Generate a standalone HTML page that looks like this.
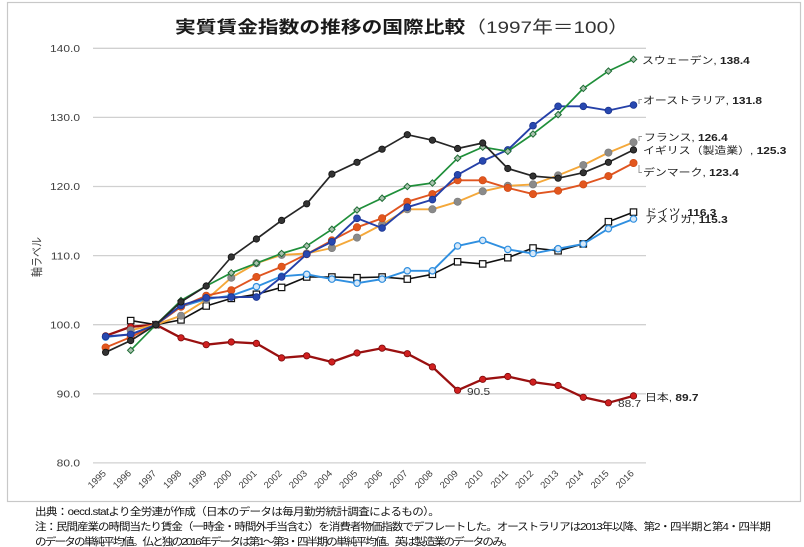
<!DOCTYPE html>
<html>
<head>
<meta charset="utf-8">
<style>
  html,body{margin:0;padding:0;background:#fff;}
  svg{display:block;}
  text{font-family:"Liberation Sans","Noto Sans CJK JP",sans-serif;}
</style>
</head>
<body>
<svg width="804" height="547" viewBox="0 0 804 547" xmlns="http://www.w3.org/2000/svg">
<defs>
  <marker id="mUK" markerUnits="userSpaceOnUse" markerWidth="8" markerHeight="8" refX="4" refY="4" overflow="visible"><circle cx="4" cy="4" r="3.2" fill="#333" stroke="#111" stroke-width="0.8"/></marker>
  <marker id="mSE" markerUnits="userSpaceOnUse" markerWidth="8" markerHeight="8" refX="4" refY="4" overflow="visible"><path d="M4 0.8 L7.2 4 L4 7.2 L0.8 4 Z" fill="#a9c2ae" stroke="#1e6b34" stroke-width="1"/></marker>
  <marker id="mAU" markerUnits="userSpaceOnUse" markerWidth="8" markerHeight="8" refX="4" refY="4" overflow="visible"><circle cx="4" cy="4" r="3.4" fill="#2848b0" stroke="#1c3590" stroke-width="0.8"/></marker>
  <marker id="mFR" markerUnits="userSpaceOnUse" markerWidth="8" markerHeight="8" refX="4" refY="4" overflow="visible"><circle cx="4" cy="4" r="3.7" fill="#8a8a8a" stroke="#777" stroke-width="0.6"/></marker>
  <marker id="mDK" markerUnits="userSpaceOnUse" markerWidth="8" markerHeight="8" refX="4" refY="4" overflow="visible"><circle cx="4" cy="4" r="3.7" fill="#e2561e" stroke="#c94510" stroke-width="0.6"/></marker>
  <marker id="mDE" markerUnits="userSpaceOnUse" markerWidth="8" markerHeight="8" refX="4" refY="4" overflow="visible"><rect x="0.8" y="0.8" width="6.4" height="6.4" fill="#fff" stroke="#111" stroke-width="1.2"/></marker>
  <marker id="mUS" markerUnits="userSpaceOnUse" markerWidth="8" markerHeight="8" refX="4" refY="4" overflow="visible"><circle cx="4" cy="4" r="3.2" fill="#d6e8f8" stroke="#2f8fe0" stroke-width="1.2"/></marker>
  <marker id="mJP" markerUnits="userSpaceOnUse" markerWidth="8" markerHeight="8" refX="4" refY="4" overflow="visible"><circle cx="4" cy="4" r="3.2" fill="#d02020" stroke="#7a0a0a" stroke-width="0.8"/></marker>
</defs>

<rect x="0" y="0" width="804" height="547" fill="#fff"/>
<!-- chart border -->
<rect x="7.5" y="2.5" width="793" height="499" fill="none" stroke="#c8c8c8" stroke-width="1.2"/>

<!-- title -->
<text transform="translate(175,33) scale(1.22,1)" font-size="17" fill="#1a1a1a" font-weight="bold">実質賃金指数の推移の国際比較<tspan font-weight="normal" fill="#333">（1997年＝100）</tspan></text>

<!-- gridlines -->
<g stroke="#d0d0d0" stroke-width="1.3">
  <line x1="93" y1="48.3" x2="646" y2="48.3"/>
  <line x1="93" y1="117.4" x2="646" y2="117.4"/>
  <line x1="93" y1="186.5" x2="646" y2="186.5"/>
  <line x1="93" y1="255.6" x2="646" y2="255.6"/>
  <line x1="93" y1="324.7" x2="646" y2="324.7"/>
  <line x1="93" y1="393.8" x2="646" y2="393.8"/>
  <line x1="93" y1="462.9" x2="646" y2="462.9"/>
</g>

<!-- y tick labels -->
<g font-size="10" fill="#404040" text-anchor="end">
  <text transform="translate(80,52) scale(1.2,1)">140.0</text>
  <text transform="translate(80,121.1) scale(1.2,1)">130.0</text>
  <text transform="translate(80,190.2) scale(1.2,1)">120.0</text>
  <text transform="translate(80,259.3) scale(1.2,1)">110.0</text>
  <text transform="translate(80,328.4) scale(1.2,1)">100.0</text>
  <text transform="translate(80,397.5) scale(1.2,1)">90.0</text>
  <text transform="translate(80,466.6) scale(1.2,1)">80.0</text>
</g>

<!-- axis title -->
<text transform="translate(41,257) scale(1.2,1) rotate(-90)" font-size="10" fill="#404040" text-anchor="middle">軸ラベル</text>

<!-- x tick labels -->
<g font-size="9.5" fill="#404040" text-anchor="end">
  <text transform="translate(106.6,474) rotate(-45)">1995</text>
  <text transform="translate(131.7,474) rotate(-45)">1996</text>
  <text transform="translate(156.9,474) rotate(-45)">1997</text>
  <text transform="translate(182,474) rotate(-45)">1998</text>
  <text transform="translate(207.2,474) rotate(-45)">1999</text>
  <text transform="translate(232.3,474) rotate(-45)">2000</text>
  <text transform="translate(257.4,474) rotate(-45)">2001</text>
  <text transform="translate(282.6,474) rotate(-45)">2002</text>
  <text transform="translate(307.7,474) rotate(-45)">2003</text>
  <text transform="translate(332.9,474) rotate(-45)">2004</text>
  <text transform="translate(358,474) rotate(-45)">2005</text>
  <text transform="translate(383.1,474) rotate(-45)">2006</text>
  <text transform="translate(408.3,474) rotate(-45)">2007</text>
  <text transform="translate(433.4,474) rotate(-45)">2008</text>
  <text transform="translate(458.6,474) rotate(-45)">2009</text>
  <text transform="translate(483.7,474) rotate(-45)">2010</text>
  <text transform="translate(508.8,474) rotate(-45)">2011</text>
  <text transform="translate(534,474) rotate(-45)">2012</text>
  <text transform="translate(559.1,474) rotate(-45)">2013</text>
  <text transform="translate(584.3,474) rotate(-45)">2014</text>
  <text transform="translate(609.4,474) rotate(-45)">2015</text>
  <text transform="translate(634.5,474) rotate(-45)">2016</text>
</g>

<!-- series -->
<g fill="none" stroke-linejoin="round">
  <polyline stroke="#111" stroke-width="1.6" marker-start="url(#mDE)" marker-mid="url(#mDE)" marker-end="url(#mDE)"
    points="130.7,320.6 155.9,324.7 181,319.9 206.2,306 231.3,298.4 256.4,294.3 281.6,287.4 306.7,277 331.9,277 357,277.7 382.1,277 407.3,279.1 432.4,274.3 457.6,261.8 482.7,263.9 507.8,257.7 533,248 558.1,250.8 583.3,243.9 608.4,221.7 633.5,212.1"/>
  <polyline stroke="#2f8fe0" stroke-width="1.9" marker-start="url(#mUS)" marker-mid="url(#mUS)" marker-end="url(#mUS)"
    points="105.6,337.1 130.7,334.4 155.9,324.7 181,306.7 206.2,299.1 231.3,295.7 256.4,286.7 281.6,276.3 306.7,274.3 331.9,279.1 357,283.2 382.1,279.1 407.3,270.8 432.4,270.8 457.6,245.9 482.7,240.4 507.8,249.4 533,253.5 558.1,248.7 583.3,243.9 608.4,228.7 633.5,219"/>
  <polyline stroke="#9a1010" stroke-width="2.3" marker-start="url(#mJP)" marker-mid="url(#mJP)" marker-end="url(#mJP)"
    points="105.6,335.8 130.7,326.8 155.9,324.7 181,337.8 206.2,344.7 231.3,342 256.4,343.4 281.6,357.9 306.7,355.8 331.9,362 357,353 382.1,348.2 407.3,353.7 432.4,366.9 457.6,390.3 482.7,379.3 507.8,376.5 533,382.1 558.1,385.5 583.3,397.3 608.4,402.8 633.5,395.9"/>
  <polyline stroke="#f4a83a" stroke-width="1.9" marker-start="url(#mFR)" marker-mid="url(#mFR)" marker-end="url(#mFR)"
    points="130.7,330.2 155.9,324.7 181,315.7 206.2,299.8 231.3,277.7 256.4,263.2 281.6,254.9 306.7,253.5 331.9,248 357,237.6 382.1,224.5 407.3,209.3 432.4,209.3 457.6,201.7 482.7,191.3 507.8,185.8 533,184.4 558.1,175.4 583.3,165.1 608.4,152.6 633.5,142.3"/>
  <polyline stroke="#e05520" stroke-width="1.9" marker-start="url(#mDK)" marker-mid="url(#mDK)" marker-end="url(#mDK)"
    points="105.6,347.5 130.7,337.1 155.9,324.7 181,306.7 206.2,295.7 231.3,290.2 256.4,277 281.6,266.7 306.7,254.2 331.9,240.4 357,227.3 382.1,218.3 407.3,201.7 432.4,194.1 457.6,180.3 482.7,180.3 507.8,187.9 533,194.1 558.1,190.7 583.3,184.4 608.4,176.1 633.5,163"/>
  <polyline stroke="#2540a8" stroke-width="1.9" marker-start="url(#mAU)" marker-mid="url(#mAU)" marker-end="url(#mAU)"
    points="105.6,336.5 130.7,334.4 155.9,324.7 181,305.4 206.2,297.8 231.3,297.1 256.4,297.1 281.6,277 306.7,254.2 331.9,241.8 357,218.3 382.1,228 407.3,207.2 432.4,199.6 457.6,174.8 482.7,160.9 507.8,149.9 533,125.7 558.1,106.3 583.3,106.3 608.4,110.5 633.5,105"/>
  <polyline stroke="#1f8f3a" stroke-width="1.7" marker-start="url(#mSE)" marker-mid="url(#mSE)" marker-end="url(#mSE)"
    points="130.7,350.3 155.9,324.7 181,300.5 206.2,286 231.3,272.9 256.4,263.2 281.6,253.5 306.7,245.9 331.9,229.3 357,210 382.1,198.2 407.3,186.5 432.4,183 457.6,158.2 482.7,147.1 507.8,151.3 533,134 558.1,114.6 583.3,88.4 608.4,71.1 633.5,59.4"/>
  <polyline stroke="#262626" stroke-width="1.7" marker-start="url(#mUK)" marker-mid="url(#mUK)" marker-end="url(#mUK)"
    points="105.6,352.3 130.7,340.6 155.9,324.7 181,301.9 206.2,286 231.3,257 256.4,239 281.6,220.4 306.7,203.8 331.9,174.1 357,162.3 382.1,149.2 407.3,134.7 432.4,140.2 457.6,148.5 482.7,143 507.8,168.5 533,176.1 558.1,178.2 583.3,172.7 608.4,162.3 633.5,149.9"/>
</g>

<!-- leader lines -->
<g fill="none" stroke="#999" stroke-width="1">
  <path d="M639 104 V99.5 H642"/>
  <path d="M639 141 V136.5 H642"/>
  <path d="M639 165 V172.5 H642"/>
</g>

<!-- data labels -->
<g font-size="10" fill="#222">
  <text transform="translate(642,64) scale(1.19,1)">スウェーデン, <tspan font-weight="bold">138.4</tspan></text>
  <text transform="translate(643,104) scale(1.19,1)">オーストラリア, <tspan font-weight="bold">131.8</tspan></text>
  <text transform="translate(644,141) scale(1.19,1)">フランス, <tspan font-weight="bold">126.4</tspan></text>
  <text transform="translate(643,154) scale(1.19,1)">イギリス（製造業）, <tspan font-weight="bold">125.3</tspan></text>
  <text transform="translate(643,176) scale(1.19,1)">デンマーク, <tspan font-weight="bold">123.4</tspan></text>
  <text transform="translate(645,216) scale(1.19,1)">ドイツ, <tspan font-weight="bold">116.3</tspan></text>
  <text transform="translate(645,223) scale(1.19,1)">アメリカ, <tspan font-weight="bold">115.3</tspan></text>
  <text transform="translate(645,401) scale(1.19,1)">日本, <tspan font-weight="bold">89.7</tspan></text>
  <text transform="translate(467,395) scale(1.19,1)" fill="#333">90.5</text>
  <text transform="translate(618,407) scale(1.19,1)" fill="#333">88.7</text>
</g>

<!-- footnotes -->
<g font-size="10.5" fill="#111">
  <text transform="translate(35,515) scale(1.1,1)" textLength="368">出典：oecd.statより全労連が作成（日本のデータは毎月勤労統計調査によるもの）。</text>
  <text transform="translate(35,530) scale(1.1,1)" textLength="669">注：民間産業の時間当たり賃金（一時金・時間外手当含む）を消費者物価指数でデフレートした。オーストラリアは2013年以降、第2・四半期と第4・四半期</text>
  <text transform="translate(35,545) scale(1.1,1)" textLength="435">のデータの単純平均値。仏と独の2016年データは第1～第3・四半期の単純平均値。英は製造業のデータのみ。</text>
</g>
</svg>
</body>
</html>
